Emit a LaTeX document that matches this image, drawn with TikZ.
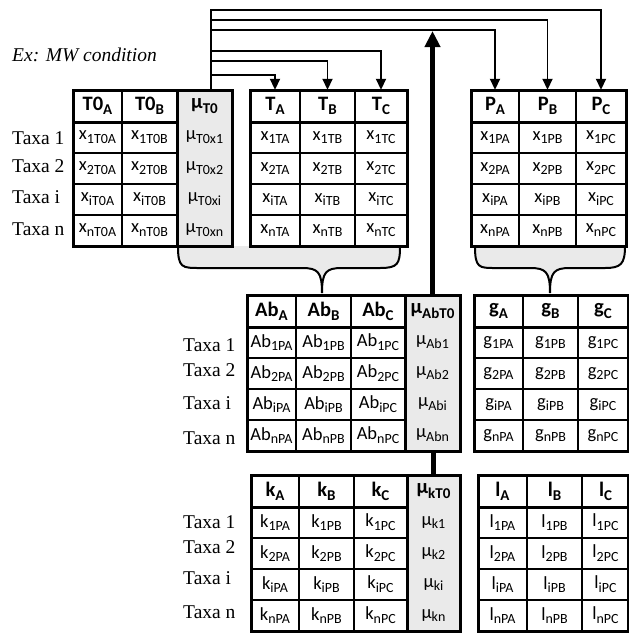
\documentclass[tikz,border=0pt]{standalone}
\usepackage{fontspec}
\setmainfont{Liberation Serif}[ItalicFont={Liberation Serif Italic}]
\newfontfamily\tabfont{Carlito}
\usetikzlibrary{arrows.meta}
\definecolor{colgrey}{HTML}{EAEAEA}
\newcommand\cs[2]{{\tabfont\fontsize{18.5}{18.5}\selectfont #1\raisebox{-3.8pt}{\fontsize{14}{14}\selectfont #2}}}
\newcommand\hs[2]{{\tabfont\bfseries\fontsize{20.5}{20.5}\selectfont #1\raisebox{-4.2pt}{\fontsize{15}{15}\selectfont #2}}}
\tikzset{
 frame/.style={line width=3pt},
 rowline/.style={line width=1.6pt},
 colline/.style={line width=1.9pt},
 mucolumn/.style={draw, fill=colgrey, line width=3pt, inner sep=0pt},
 hdr/.style={inner sep=0pt, minimum height=32pt},
 cellt/.style={inner sep=0pt},
 taxa/.style={anchor=west, inner sep=0pt, font=\fontsize{19.5}{19.5}\selectfont},
 arr/.style={line width=1.8pt, -{Triangle[width=10pt,length=11pt]}},
 bigarr/.style={line width=4.8pt, -{Triangle[width=15pt,length=16pt]}},
 bigline/.style={line width=4.8pt},
 bracefill/.style={fill=colgrey, draw, line width=2pt},
}
% x0 x1 x2 x3 y0
\newcommand\tgrid[5]{%
  \draw[rowline] (#1,#5+63) -- (#4,#5+63) (#1,#5+94) -- (#4,#5+94) (#1,#5+125) -- (#4,#5+125);
  \draw[colline] (#2,#5) -- (#2,#5+156) (#3,#5) -- (#3,#5+156);
  \draw[frame] (#1,#5+32) -- (#4,#5+32);
  \draw[frame] (#1,#5) rectangle (#4,#5+156);
}
\begin{document}
\begin{tikzpicture}[x=1pt,y=-1pt]
\useasboundingbox (0,0) rectangle (629,633);

% braces
\filldraw[bracefill] (178,246) .. controls (178,268) and (182,268) .. (200,268) -- (302,268)
  .. controls (318,268) and (322,272) .. (322,293)
  .. controls (322,272) and (326,268) .. (342,268) -- (380,268)
  .. controls (398,268) and (400,264) .. (400,246);
\filldraw[bracefill] (475,246) .. controls (475,268) and (479,268) .. (495,268) -- (530,268)
  .. controls (546,268) and (550,272) .. (550,293)
  .. controls (550,272) and (554,268) .. (570,268) -- (605,268)
  .. controls (621,268) and (625,264) .. (625,246);

% mu columns
\node[mucolumn, minimum width=55pt, minimum height=156pt] (muT0col) at (204.5,168) {};
\node[mucolumn, minimum width=55pt, minimum height=156pt] (muAbcol) at (432.5,373) {};
\node[mucolumn, minimum width=53pt, minimum height=156pt] (mukcol) at (433.5,553) {};

% T0 table grid
\draw[rowline] (73,153) -- (177,153) (73,184) -- (177,184) (73,215) -- (177,215);
\draw[colline] (122,90) -- (122,246);
\draw[frame] (73,122) -- (177,122);
\draw[frame] (73,90) rectangle (177,246);

\tgrid{250}{300}{355}{407}{90}
\tgrid{471}{519}{576}{626}{90}
\tgrid{247}{296}{351}{405}{295}
\tgrid{474}{523}{578}{628}{295}
\tgrid{251}{299}{354}{407}{475}
\tgrid{478}{527}{582}{628}{475}

% headers
\node[hdr] (hT0A) at (97.5,106) {\hs{T0}{A}};
\node[hdr] (hT0B) at (149.5,106) {\hs{T0}{B}};
\node[hdr] (hmuT0) at (204.5,106) {\hs{μ}{T0}};
\node[hdr] (hTA) at (275,106) {\hs{T}{A}};
\node[hdr] (hTB) at (327.5,106) {\hs{T}{B}};
\node[hdr] (hTC) at (381,106) {\hs{T}{C}};
\node[hdr] (hPA) at (495,106) {\hs{P}{A}};
\node[hdr] (hPB) at (547.5,106) {\hs{P}{B}};
\node[hdr] (hPC) at (601,106) {\hs{P}{C}};
\node[hdr] (hAbA) at (271.5,311) {\hs{Ab}{A}};
\node[hdr] (hAbB) at (323.5,311) {\hs{Ab}{B}};
\node[hdr] (hAbC) at (378,311) {\hs{Ab}{C}};
\node[hdr] (hmuAb) at (432.5,311) {\hs{μ}{AbT0}};
\node[hdr] (hgA) at (498.5,311) {\hs{g}{A}};
\node[hdr] (hgB) at (550.5,311) {\hs{g}{B}};
\node[hdr] (hgC) at (603,311) {\hs{g}{C}};
\node[hdr] (hkA) at (275,491) {\hs{k}{A}};
\node[hdr] (hkB) at (326.5,491) {\hs{k}{B}};
\node[hdr] (hkC) at (380.5,491) {\hs{k}{C}};
\node[hdr] (hmuk) at (433.5,491) {\hs{μ}{kT0}};
\node[hdr] (hlA) at (502.5,491) {\hs{l}{A}};
\node[hdr] (hlB) at (554.5,491) {\hs{l}{B}};
\node[hdr] (hlC) at (605.5,491) {\hs{l}{C}};

% cells
\foreach \r/\dy in {1/47.5,2/78.5,i/109.5,n/140.5} {
  \node[cellt] (T0A\r) at (97.5,90+\dy) {\cs{x}{\r T0A}};
  \node[cellt] (T0B\r) at (149.5,90+\dy) {\cs{x}{\r T0B}};
  \node[cellt] (muT0\r) at (204.5,90+\dy) {\cs{μ}{T0x\r}};
  \node[cellt] (TA\r) at (275,90+\dy) {\cs{x}{\r TA}};
  \node[cellt] (TB\r) at (327.5,90+\dy) {\cs{x}{\r TB}};
  \node[cellt] (TC\r) at (381,90+\dy) {\cs{x}{\r TC}};
  \node[cellt] (PA\r) at (495,90+\dy) {\cs{x}{\r PA}};
  \node[cellt] (PB\r) at (547.5,90+\dy) {\cs{x}{\r PB}};
  \node[cellt] (PC\r) at (601,90+\dy) {\cs{x}{\r PC}};
  \node[cellt] (AbA\r) at (271.5,295+\dy) {\cs{Ab}{\r PA}};
  \node[cellt] (AbB\r) at (323.5,295+\dy) {\cs{Ab}{\r PB}};
  \node[cellt] (AbC\r) at (378,295+\dy) {\cs{Ab}{\r PC}};
  \node[cellt] (muAb\r) at (432.5,295+\dy) {\cs{μ}{Ab\r}};
  \node[cellt] (gA\r) at (498.5,295+\dy) {\cs{g}{\r PA}};
  \node[cellt] (gB\r) at (550.5,295+\dy) {\cs{g}{\r PB}};
  \node[cellt] (gC\r) at (603,295+\dy) {\cs{g}{\r PC}};
  \node[cellt] (kA\r) at (275,475+\dy) {\cs{k}{\r PA}};
  \node[cellt] (kB\r) at (326.5,475+\dy) {\cs{k}{\r PB}};
  \node[cellt] (kC\r) at (380.5,475+\dy) {\cs{k}{\r PC}};
  \node[cellt] (muk\r) at (433.5,475+\dy) {\cs{μ}{k\r}};
  \node[cellt] (lA\r) at (502.5,475+\dy) {\cs{l}{\r PA}};
  \node[cellt] (lB\r) at (554.5,475+\dy) {\cs{l}{\r PB}};
  \node[cellt] (lC\r) at (605.5,475+\dy) {\cs{l}{\r PC}};
}

% taxa labels
\node[taxa] (tl1) at (12,138) {Taxa 1};
\node[taxa] (tl2) at (12,166) {Taxa 2};
\node[taxa] (tli) at (12,197) {Taxa i};
\node[taxa] (tln) at (12,229) {Taxa n};
\node[taxa] (tm1) at (183,345) {Taxa 1};
\node[taxa] (tm2) at (183,370) {Taxa 2};
\node[taxa] (tmi) at (183,403) {Taxa i};
\node[taxa] (tmn) at (183,438) {Taxa n};
\node[taxa] (tb1) at (183,522) {Taxa 1};
\node[taxa] (tb2) at (183,547) {Taxa 2};
\node[taxa] (tbi) at (183,578) {Taxa i};
\node[taxa] (tbn) at (183,612) {Taxa n};

\node[anchor=west, inner sep=0pt, font=\itshape\fontsize{19.5}{19.5}\selectfont] (ex) at (12,55) {Ex: MW condition};

% arrows
\coordinate (src) at (211,90);
\draw[arr] (src) |- ([yshift=15pt]hTA.north) -- (hTA.north);
\draw[arr] (src) |- ([yshift=29pt]hTB.north) -- (hTB.north);
\draw[arr] (src) |- ([yshift=39pt]hTC.north) -- (hTC.north);
\draw[arr] (src) |- ([yshift=60pt]hPA.north) -- (hPA.north);
\draw[arr] (src) |- ([yshift=70pt]hPB.north) -- (hPB.north);
\draw[arr] (src) |- ([yshift=80pt]hPC.north) -- (hPC.north);
\coordinate (topjoin) at (432.5,31);
\draw[bigarr] (hmuAb.north) -- (topjoin);
\draw[bigline] (hmuk.north) -- (hmuk.north |- muAbcol.south);
\end{tikzpicture}
\end{document}
